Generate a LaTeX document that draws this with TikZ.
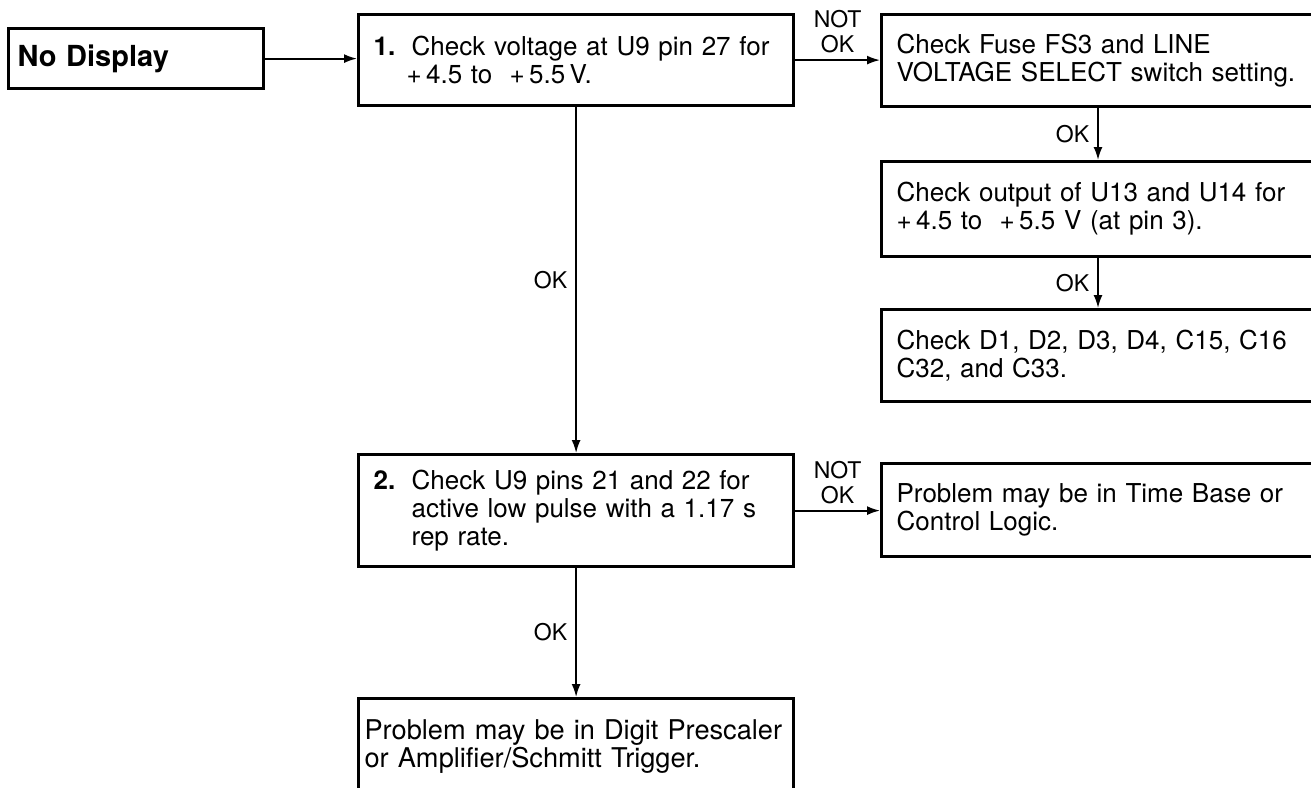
\documentclass[tikz,border=0pt]{standalone}
\usepackage{fontspec}
\setmainfont{TeX Gyre Heros}
\usepackage{tikz}
\usetikzlibrary{arrows.meta, positioning}
\tikzset{
  stepbox/.style={rectangle, draw=black, line width=1.6pt, anchor=north west,
    align=left, inner xsep=7.5pt, inner ysep=0pt,
    font=\fontsize{13}{14}\selectfont},
  startbox/.style={stepbox, inner xsep=4.5pt,
    font=\fontsize{14.5}{16}\selectfont\bfseries},
  flowarrow/.style={-{Latex[length=6.5pt,width=4.5pt]}, line width=0.9pt, color=black},
  oklabel/.style={font=\fontsize{11.5}{12.5}\selectfont, inner sep=1pt, align=center}
}
\newcommand{\stepno}[1]{\makebox[19pt][l]{\textbf{#1.}}}

\begin{document}
\begin{tikzpicture}[x=0.5pt, y=-0.5pt]
  \useasboundingbox (0,0) rectangle (1311,787);

  % Nodes
  \node[startbox, text width=118.5pt, minimum height=30pt] (nodisp) at (7,27) {No Display};
  \node[stepbox, text width=202.5pt, minimum height=45.5pt] (chkvolt) at (357,13)
    {\stepno{1}Check voltage at U9 pin 27 for\\\hspace*{16.5pt}+\,4.5 to \ +\,5.5\,V.};
  \node[stepbox, text width=215pt, minimum height=46pt] (fuse) at (880,13)
    {Check Fuse FS3 and LINE\\VOLTAGE SELECT switch setting.};
  \node[stepbox, text width=215pt, minimum height=47.5pt] (regout) at (880,160)
    {Check output of U13 and U14 for\\+\,4.5 to \ +\,5.5 V (at pin 3).};
  \node[stepbox, text width=215pt, minimum height=46pt] (diodes) at (880,308)
    {Check D1, D2, D3, D4, C15, C16\\C32, and C33.};
  \node[stepbox, text width=202.5pt, minimum height=56pt] (chkpulse) at (357,453)
    {\stepno{2}Check U9 pins 21 and 22 for\\\hspace*{19pt}active low pulse with a 1.17 s\\\hspace*{19pt}rep rate.};
  \node[stepbox, text width=215pt, minimum height=46.5pt] (timebase) at (880,462)
    {Problem may be in Time Base or\\Control Logic.};
  \node[stepbox, inner xsep=3pt, text width=211.5pt, minimum height=47.5pt,
    font=\fontsize{13.6}{14}\selectfont] (prescaler) at (357,697)
    {Problem may be in Digit Prescaler\\or Amplifier/Schmitt Trigger.};

  % Right column line
  \coordinate (rcol) at (1098,0);

  % Connections
  \draw[flowarrow] (nodisp.east) -- (nodisp.east -| chkvolt.west);
  \draw[flowarrow] (chkvolt.east) -- node[oklabel, above=2pt] {NOT\\OK} (chkvolt.east -| fuse.west);
  \draw[flowarrow] (fuse.south -| rcol) -- node[oklabel, left=3pt] {OK} (regout.north -| rcol);
  \draw[flowarrow] (regout.south -| rcol) -- node[oklabel, left=3pt] {OK} (diodes.north -| rcol);
  \draw[flowarrow] (chkvolt.south) -- node[oklabel, left=3pt] {OK} (chkpulse.north);
  \draw[flowarrow] (chkpulse.east) -- node[oklabel, above=2pt] {NOT\\OK} (chkpulse.east -| timebase.west);
  \draw[flowarrow] (chkpulse.south) -- node[oklabel, left=3pt] {OK} (prescaler.north);
\end{tikzpicture}
\end{document}
